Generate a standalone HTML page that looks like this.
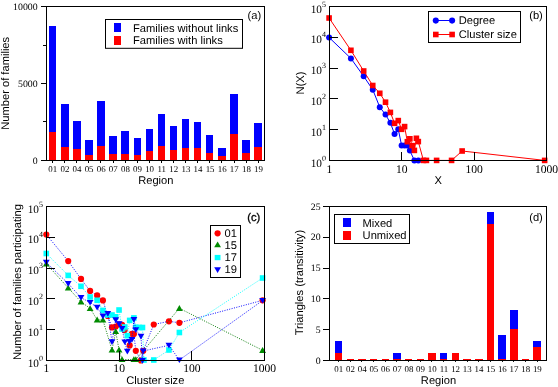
<!DOCTYPE html>
<html><head><meta charset="utf-8"><title>Figure</title>
<style>
html,body{margin:0;padding:0;background:#fff;}
body{width:558px;height:387px;overflow:hidden;font-family:"Liberation Sans",sans-serif;}
svg{display:block;will-change:transform;}
text{fill:#000;text-rendering:geometricPrecision;}
</style></head><body>
<svg width="558" height="387" viewBox="0 0 558 387">
<rect x="0" y="0" width="558" height="387" fill="#fff"/>
<rect x="49.00" y="26.00" width="7.00" height="106.00" fill="#0000ff" stroke="none" stroke-width="1" shape-rendering="crispEdges"/>
<rect x="49.00" y="132.00" width="7.00" height="28.00" fill="#ff0000" stroke="none" stroke-width="1" shape-rendering="crispEdges"/>
<line x1="52.50" y1="160.50" x2="52.50" y2="163.00" stroke="#000" stroke-width="1" />
<text x="52.80" y="172.10" font-family="Liberation Serif" font-size="8.9" text-anchor="middle" >01</text>
<rect x="61.00" y="104.00" width="8.00" height="43.00" fill="#0000ff" stroke="none" stroke-width="1" shape-rendering="crispEdges"/>
<rect x="61.00" y="147.00" width="8.00" height="13.00" fill="#ff0000" stroke="none" stroke-width="1" shape-rendering="crispEdges"/>
<line x1="64.50" y1="160.50" x2="64.50" y2="163.00" stroke="#000" stroke-width="1" />
<text x="64.90" y="172.10" font-family="Liberation Serif" font-size="8.9" text-anchor="middle" >02</text>
<rect x="73.00" y="121.00" width="8.00" height="28.00" fill="#0000ff" stroke="none" stroke-width="1" shape-rendering="crispEdges"/>
<rect x="73.00" y="149.00" width="8.00" height="11.00" fill="#ff0000" stroke="none" stroke-width="1" shape-rendering="crispEdges"/>
<line x1="76.50" y1="160.50" x2="76.50" y2="163.00" stroke="#000" stroke-width="1" />
<text x="77.00" y="172.10" font-family="Liberation Serif" font-size="8.9" text-anchor="middle" >04</text>
<rect x="85.00" y="140.00" width="8.00" height="15.00" fill="#0000ff" stroke="none" stroke-width="1" shape-rendering="crispEdges"/>
<rect x="85.00" y="155.00" width="8.00" height="5.00" fill="#ff0000" stroke="none" stroke-width="1" shape-rendering="crispEdges"/>
<line x1="88.50" y1="160.50" x2="88.50" y2="163.00" stroke="#000" stroke-width="1" />
<text x="89.10" y="172.10" font-family="Liberation Serif" font-size="8.9" text-anchor="middle" >05</text>
<rect x="97.00" y="101.00" width="8.00" height="45.00" fill="#0000ff" stroke="none" stroke-width="1" shape-rendering="crispEdges"/>
<rect x="97.00" y="146.00" width="8.00" height="14.00" fill="#ff0000" stroke="none" stroke-width="1" shape-rendering="crispEdges"/>
<line x1="100.50" y1="160.50" x2="100.50" y2="163.00" stroke="#000" stroke-width="1" />
<text x="101.20" y="172.10" font-family="Liberation Serif" font-size="8.9" text-anchor="middle" >06</text>
<rect x="109.00" y="136.00" width="8.00" height="18.00" fill="#0000ff" stroke="none" stroke-width="1" shape-rendering="crispEdges"/>
<rect x="109.00" y="154.00" width="8.00" height="6.00" fill="#ff0000" stroke="none" stroke-width="1" shape-rendering="crispEdges"/>
<line x1="113.50" y1="160.50" x2="113.50" y2="163.00" stroke="#000" stroke-width="1" />
<text x="113.30" y="172.10" font-family="Liberation Serif" font-size="8.9" text-anchor="middle" >07</text>
<rect x="121.00" y="131.00" width="8.00" height="23.00" fill="#0000ff" stroke="none" stroke-width="1" shape-rendering="crispEdges"/>
<rect x="121.00" y="154.00" width="8.00" height="6.00" fill="#ff0000" stroke="none" stroke-width="1" shape-rendering="crispEdges"/>
<line x1="125.50" y1="160.50" x2="125.50" y2="163.00" stroke="#000" stroke-width="1" />
<text x="125.40" y="172.10" font-family="Liberation Serif" font-size="8.9" text-anchor="middle" >08</text>
<rect x="134.00" y="138.00" width="7.00" height="17.00" fill="#0000ff" stroke="none" stroke-width="1" shape-rendering="crispEdges"/>
<rect x="134.00" y="155.00" width="7.00" height="5.00" fill="#ff0000" stroke="none" stroke-width="1" shape-rendering="crispEdges"/>
<line x1="137.50" y1="160.50" x2="137.50" y2="163.00" stroke="#000" stroke-width="1" />
<text x="137.50" y="172.10" font-family="Liberation Serif" font-size="8.9" text-anchor="middle" >09</text>
<rect x="146.00" y="129.00" width="7.00" height="22.00" fill="#0000ff" stroke="none" stroke-width="1" shape-rendering="crispEdges"/>
<rect x="146.00" y="151.00" width="7.00" height="9.00" fill="#ff0000" stroke="none" stroke-width="1" shape-rendering="crispEdges"/>
<line x1="149.50" y1="160.50" x2="149.50" y2="163.00" stroke="#000" stroke-width="1" />
<text x="149.60" y="172.10" font-family="Liberation Serif" font-size="8.9" text-anchor="middle" >10</text>
<rect x="158.00" y="114.00" width="7.00" height="32.00" fill="#0000ff" stroke="none" stroke-width="1" shape-rendering="crispEdges"/>
<rect x="158.00" y="146.00" width="7.00" height="14.00" fill="#ff0000" stroke="none" stroke-width="1" shape-rendering="crispEdges"/>
<line x1="161.50" y1="160.50" x2="161.50" y2="163.00" stroke="#000" stroke-width="1" />
<text x="161.70" y="172.10" font-family="Liberation Serif" font-size="8.9" text-anchor="middle" >11</text>
<rect x="170.00" y="126.00" width="7.00" height="24.00" fill="#0000ff" stroke="none" stroke-width="1" shape-rendering="crispEdges"/>
<rect x="170.00" y="150.00" width="7.00" height="10.00" fill="#ff0000" stroke="none" stroke-width="1" shape-rendering="crispEdges"/>
<line x1="173.50" y1="160.50" x2="173.50" y2="163.00" stroke="#000" stroke-width="1" />
<text x="173.80" y="172.10" font-family="Liberation Serif" font-size="8.9" text-anchor="middle" >12</text>
<rect x="182.00" y="119.00" width="7.00" height="29.00" fill="#0000ff" stroke="none" stroke-width="1" shape-rendering="crispEdges"/>
<rect x="182.00" y="148.00" width="7.00" height="12.00" fill="#ff0000" stroke="none" stroke-width="1" shape-rendering="crispEdges"/>
<line x1="185.50" y1="160.50" x2="185.50" y2="163.00" stroke="#000" stroke-width="1" />
<text x="185.90" y="172.10" font-family="Liberation Serif" font-size="8.9" text-anchor="middle" >13</text>
<rect x="194.00" y="122.00" width="7.00" height="26.00" fill="#0000ff" stroke="none" stroke-width="1" shape-rendering="crispEdges"/>
<rect x="194.00" y="148.00" width="7.00" height="12.00" fill="#ff0000" stroke="none" stroke-width="1" shape-rendering="crispEdges"/>
<line x1="197.50" y1="160.50" x2="197.50" y2="163.00" stroke="#000" stroke-width="1" />
<text x="198.00" y="172.10" font-family="Liberation Serif" font-size="8.9" text-anchor="middle" >14</text>
<rect x="206.00" y="135.00" width="7.00" height="18.00" fill="#0000ff" stroke="none" stroke-width="1" shape-rendering="crispEdges"/>
<rect x="206.00" y="153.00" width="7.00" height="7.00" fill="#ff0000" stroke="none" stroke-width="1" shape-rendering="crispEdges"/>
<line x1="209.50" y1="160.50" x2="209.50" y2="163.00" stroke="#000" stroke-width="1" />
<text x="210.10" y="172.10" font-family="Liberation Serif" font-size="8.9" text-anchor="middle" >15</text>
<rect x="218.00" y="148.00" width="8.00" height="8.00" fill="#0000ff" stroke="none" stroke-width="1" shape-rendering="crispEdges"/>
<rect x="218.00" y="156.00" width="8.00" height="4.00" fill="#ff0000" stroke="none" stroke-width="1" shape-rendering="crispEdges"/>
<line x1="221.50" y1="160.50" x2="221.50" y2="163.00" stroke="#000" stroke-width="1" />
<text x="222.20" y="172.10" font-family="Liberation Serif" font-size="8.9" text-anchor="middle" >16</text>
<rect x="230.00" y="94.00" width="8.00" height="40.00" fill="#0000ff" stroke="none" stroke-width="1" shape-rendering="crispEdges"/>
<rect x="230.00" y="134.00" width="8.00" height="26.00" fill="#ff0000" stroke="none" stroke-width="1" shape-rendering="crispEdges"/>
<line x1="234.50" y1="160.50" x2="234.50" y2="163.00" stroke="#000" stroke-width="1" />
<text x="234.30" y="172.10" font-family="Liberation Serif" font-size="8.9" text-anchor="middle" >17</text>
<rect x="242.00" y="140.00" width="8.00" height="13.00" fill="#0000ff" stroke="none" stroke-width="1" shape-rendering="crispEdges"/>
<rect x="242.00" y="153.00" width="8.00" height="7.00" fill="#ff0000" stroke="none" stroke-width="1" shape-rendering="crispEdges"/>
<line x1="246.50" y1="160.50" x2="246.50" y2="163.00" stroke="#000" stroke-width="1" />
<text x="246.40" y="172.10" font-family="Liberation Serif" font-size="8.9" text-anchor="middle" >18</text>
<rect x="254.00" y="123.00" width="8.00" height="24.00" fill="#0000ff" stroke="none" stroke-width="1" shape-rendering="crispEdges"/>
<rect x="254.00" y="147.00" width="8.00" height="13.00" fill="#ff0000" stroke="none" stroke-width="1" shape-rendering="crispEdges"/>
<line x1="258.50" y1="160.50" x2="258.50" y2="163.00" stroke="#000" stroke-width="1" />
<text x="258.50" y="172.10" font-family="Liberation Serif" font-size="8.9" text-anchor="middle" >19</text>
<rect x="46.50" y="6.50" width="218.00" height="154.00" fill="none" stroke="#000" stroke-width="1.0" />
<line x1="41.00" y1="160.50" x2="46.50" y2="160.50" stroke="#000" stroke-width="1" />
<text x="37.60" y="163.50" font-family="Liberation Serif" font-size="9.8" text-anchor="end" >0</text>
<line x1="43.00" y1="121.50" x2="46.50" y2="121.50" stroke="#000" stroke-width="1" />
<line x1="41.00" y1="83.50" x2="46.50" y2="83.50" stroke="#000" stroke-width="1" />
<text x="37.60" y="86.50" font-family="Liberation Serif" font-size="9.8" text-anchor="end" >5000</text>
<line x1="43.00" y1="45.50" x2="46.50" y2="45.50" stroke="#000" stroke-width="1" />
<line x1="41.00" y1="6.50" x2="46.50" y2="6.50" stroke="#000" stroke-width="1" />
<text x="37.60" y="9.50" font-family="Liberation Serif" font-size="9.8" text-anchor="end" >10000</text>
<text transform="translate(8.70,83.30) rotate(-90)" font-family="Liberation Sans" font-size="11.15" text-anchor="middle">Number of families</text>
<text x="155.80" y="184.40" font-family="Liberation Sans" font-size="11.15" text-anchor="middle" >Region</text>
<rect x="105.50" y="19.50" width="137.00" height="28.80" fill="#fff" stroke="#000" stroke-width="1" />
<rect x="114.00" y="23.00" width="7.00" height="9.00" fill="#0000ff" stroke="none" stroke-width="1" />
<rect x="114.00" y="36.00" width="7.00" height="9.00" fill="#ff0000" stroke="none" stroke-width="1" />
<text x="133.00" y="31.80" font-family="Liberation Sans" font-size="11.15" text-anchor="start" >Families without links</text>
<text x="133.00" y="43.90" font-family="Liberation Sans" font-size="11.15" text-anchor="start" >Families with links</text>
<text x="247.50" y="19.20" font-family="Liberation Sans" font-size="11.15" text-anchor="start" >(a)</text>
<polyline points="329.10,37.50 350.92,58.40 363.69,76.30 372.75,89.70 379.78,107.20 385.52,114.60 390.37,122.80 394.57,134.00 398.28,129.20 401.60,145.50 404.60,145.50 407.34,145.50 409.86,150.60 414.37,160.40 418.31,160.40" fill="none" stroke="#0000ff" stroke-width="1.0" />
<circle cx="329.10" cy="37.50" r="3.0" fill="#0000ff"/>
<circle cx="350.92" cy="58.40" r="3.0" fill="#0000ff"/>
<circle cx="363.69" cy="76.30" r="3.0" fill="#0000ff"/>
<circle cx="372.75" cy="89.70" r="3.0" fill="#0000ff"/>
<circle cx="379.78" cy="107.20" r="3.0" fill="#0000ff"/>
<circle cx="385.52" cy="114.60" r="3.0" fill="#0000ff"/>
<circle cx="390.37" cy="122.80" r="3.0" fill="#0000ff"/>
<circle cx="394.57" cy="134.00" r="3.0" fill="#0000ff"/>
<circle cx="398.28" cy="129.20" r="3.0" fill="#0000ff"/>
<circle cx="401.60" cy="145.50" r="3.0" fill="#0000ff"/>
<circle cx="404.60" cy="145.50" r="3.0" fill="#0000ff"/>
<circle cx="407.34" cy="145.50" r="3.0" fill="#0000ff"/>
<circle cx="409.86" cy="150.60" r="3.0" fill="#0000ff"/>
<circle cx="414.37" cy="160.40" r="3.0" fill="#0000ff"/>
<circle cx="418.31" cy="160.40" r="3.0" fill="#0000ff"/>
<polyline points="329.10,18.00 350.92,50.30 363.69,71.00 372.75,85.50 379.78,93.30 385.52,102.20 390.37,112.40 394.57,123.30 398.28,120.60 401.60,129.30 404.60,126.60 407.34,141.70 409.86,138.80 412.19,145.60 414.37,150.40 416.40,138.30 418.31,141.60 423.42,160.40 426.43,160.40 436.61,160.40 451.57,160.40 462.14,151.00 544.65,160.40" fill="none" stroke="#ff0000" stroke-width="1.0" />
<rect x="326.30" y="15.20" width="5.60" height="5.60" fill="#ff0000" stroke="none" stroke-width="1" />
<rect x="348.12" y="47.50" width="5.60" height="5.60" fill="#ff0000" stroke="none" stroke-width="1" />
<rect x="360.89" y="68.20" width="5.60" height="5.60" fill="#ff0000" stroke="none" stroke-width="1" />
<rect x="369.95" y="82.70" width="5.60" height="5.60" fill="#ff0000" stroke="none" stroke-width="1" />
<rect x="376.98" y="90.50" width="5.60" height="5.60" fill="#ff0000" stroke="none" stroke-width="1" />
<rect x="382.72" y="99.40" width="5.60" height="5.60" fill="#ff0000" stroke="none" stroke-width="1" />
<rect x="387.57" y="109.60" width="5.60" height="5.60" fill="#ff0000" stroke="none" stroke-width="1" />
<rect x="391.77" y="120.50" width="5.60" height="5.60" fill="#ff0000" stroke="none" stroke-width="1" />
<rect x="395.48" y="117.80" width="5.60" height="5.60" fill="#ff0000" stroke="none" stroke-width="1" />
<rect x="398.80" y="126.50" width="5.60" height="5.60" fill="#ff0000" stroke="none" stroke-width="1" />
<rect x="401.80" y="123.80" width="5.60" height="5.60" fill="#ff0000" stroke="none" stroke-width="1" />
<rect x="404.54" y="138.90" width="5.60" height="5.60" fill="#ff0000" stroke="none" stroke-width="1" />
<rect x="407.06" y="136.00" width="5.60" height="5.60" fill="#ff0000" stroke="none" stroke-width="1" />
<rect x="409.39" y="142.80" width="5.60" height="5.60" fill="#ff0000" stroke="none" stroke-width="1" />
<rect x="411.57" y="147.60" width="5.60" height="5.60" fill="#ff0000" stroke="none" stroke-width="1" />
<rect x="413.60" y="135.50" width="5.60" height="5.60" fill="#ff0000" stroke="none" stroke-width="1" />
<rect x="415.51" y="138.80" width="5.60" height="5.60" fill="#ff0000" stroke="none" stroke-width="1" />
<rect x="420.62" y="157.60" width="5.60" height="5.60" fill="#ff0000" stroke="none" stroke-width="1" />
<rect x="423.63" y="157.60" width="5.60" height="5.60" fill="#ff0000" stroke="none" stroke-width="1" />
<rect x="433.81" y="157.60" width="5.60" height="5.60" fill="#ff0000" stroke="none" stroke-width="1" />
<rect x="448.77" y="157.60" width="5.60" height="5.60" fill="#ff0000" stroke="none" stroke-width="1" />
<rect x="459.34" y="148.20" width="5.60" height="5.60" fill="#ff0000" stroke="none" stroke-width="1" />
<rect x="541.85" y="157.60" width="5.60" height="5.60" fill="#ff0000" stroke="none" stroke-width="1" />
<rect x="329.50" y="6.50" width="217.00" height="154.00" fill="none" stroke="#000" stroke-width="1.0" />
<text x="322.00" y="166.65" font-family="Liberation Serif" font-size="11.3" text-anchor="end" >10</text>
<text x="322.10" y="160.60" font-family="Liberation Serif" font-size="8.0" text-anchor="start" >0</text>
<line x1="329.50" y1="129.50" x2="338.00" y2="129.50" stroke="#000" stroke-width="1" />
<text x="322.00" y="135.85" font-family="Liberation Serif" font-size="11.3" text-anchor="end" >10</text>
<text x="322.10" y="129.80" font-family="Liberation Serif" font-size="8.0" text-anchor="start" >1</text>
<line x1="329.50" y1="98.50" x2="338.00" y2="98.50" stroke="#000" stroke-width="1" />
<text x="322.00" y="105.05" font-family="Liberation Serif" font-size="11.3" text-anchor="end" >10</text>
<text x="322.10" y="99.00" font-family="Liberation Serif" font-size="8.0" text-anchor="start" >2</text>
<line x1="329.50" y1="68.50" x2="338.00" y2="68.50" stroke="#000" stroke-width="1" />
<text x="322.00" y="74.25" font-family="Liberation Serif" font-size="11.3" text-anchor="end" >10</text>
<text x="322.10" y="68.20" font-family="Liberation Serif" font-size="8.0" text-anchor="start" >3</text>
<line x1="329.50" y1="37.50" x2="338.00" y2="37.50" stroke="#000" stroke-width="1" />
<text x="322.00" y="43.45" font-family="Liberation Serif" font-size="11.3" text-anchor="end" >10</text>
<text x="322.10" y="37.40" font-family="Liberation Serif" font-size="8.0" text-anchor="start" >4</text>
<text x="322.00" y="12.65" font-family="Liberation Serif" font-size="11.3" text-anchor="end" >10</text>
<text x="322.10" y="6.60" font-family="Liberation Serif" font-size="8.0" text-anchor="start" >5</text>
<text x="329.50" y="172.50" font-family="Liberation Serif" font-size="11.6" text-anchor="middle" >1</text>
<line x1="401.50" y1="160.50" x2="401.50" y2="152.00" stroke="#000" stroke-width="1" />
<text x="401.83" y="172.50" font-family="Liberation Serif" font-size="11.6" text-anchor="middle" >10</text>
<line x1="474.50" y1="160.50" x2="474.50" y2="152.00" stroke="#000" stroke-width="1" />
<text x="474.17" y="172.50" font-family="Liberation Serif" font-size="11.6" text-anchor="middle" >100</text>
<text x="546.50" y="172.50" font-family="Liberation Serif" font-size="11.6" text-anchor="middle" >1000</text>
<text transform="translate(304.00,83.00) rotate(-90)" font-family="Liberation Sans" font-size="11.15" text-anchor="middle">N(X)</text>
<text x="438.30" y="184.20" font-family="Liberation Sans" font-size="11.15" text-anchor="middle" >X</text>
<rect x="428.50" y="11.50" width="92.00" height="31.00" fill="#fff" stroke="#000" stroke-width="1" />
<line x1="435.80" y1="20.50" x2="452.10" y2="20.50" stroke="#0000ff" stroke-width="1" />
<line x1="435.80" y1="34.50" x2="452.10" y2="34.50" stroke="#ff0000" stroke-width="1" />
<circle cx="435.80" cy="20.60" r="3.05" fill="#0000ff"/>
<rect x="433.00" y="31.70" width="5.60" height="5.60" fill="#ff0000" stroke="none" stroke-width="1" />
<circle cx="452.10" cy="20.60" r="3.05" fill="#0000ff"/>
<rect x="449.30" y="31.70" width="5.60" height="5.60" fill="#ff0000" stroke="none" stroke-width="1" />
<text x="458.70" y="23.70" font-family="Liberation Sans" font-size="11.15" text-anchor="start" >Degree</text>
<text x="458.70" y="38.30" font-family="Liberation Sans" font-size="11.15" text-anchor="start" >Cluster size</text>
<text x="529.20" y="19.20" font-family="Liberation Sans" font-size="11.15" text-anchor="start" >(b)</text>
<polyline points="46.30,234.50 68.20,261.10 81.01,278.90 90.10,290.90 97.15,295.40 102.91,300.40 107.78,316.00 112.00,327.40 115.72,326.50 119.05,324.30 122.06,324.80 124.55,330.20 129.68,345.40 131.86,333.80 133.90,334.10 135.82,350.80 140.95,360.40 143.23,350.80 153.76,324.50 168.94,321.30 179.38,322.80 262.60,300.30" fill="none" stroke="#0000ff" stroke-width="0.95" stroke-dasharray="1,1.45"/>
<circle cx="46.30" cy="234.50" r="3.1" fill="#ff0000"/>
<circle cx="68.20" cy="261.10" r="3.1" fill="#ff0000"/>
<circle cx="81.01" cy="278.90" r="3.1" fill="#ff0000"/>
<circle cx="90.10" cy="290.90" r="3.1" fill="#ff0000"/>
<circle cx="97.15" cy="295.40" r="3.1" fill="#ff0000"/>
<circle cx="102.91" cy="300.40" r="3.1" fill="#ff0000"/>
<circle cx="107.78" cy="316.00" r="3.1" fill="#ff0000"/>
<circle cx="112.00" cy="327.40" r="3.1" fill="#ff0000"/>
<circle cx="115.72" cy="326.50" r="3.1" fill="#ff0000"/>
<circle cx="119.05" cy="324.30" r="3.1" fill="#ff0000"/>
<circle cx="122.06" cy="324.80" r="3.1" fill="#ff0000"/>
<circle cx="124.55" cy="330.20" r="3.1" fill="#ff0000"/>
<circle cx="129.68" cy="345.40" r="3.1" fill="#ff0000"/>
<circle cx="131.86" cy="333.80" r="3.1" fill="#ff0000"/>
<circle cx="133.90" cy="334.10" r="3.1" fill="#ff0000"/>
<circle cx="135.82" cy="350.80" r="3.1" fill="#ff0000"/>
<circle cx="140.95" cy="360.40" r="3.1" fill="#ff0000"/>
<circle cx="143.23" cy="350.80" r="3.1" fill="#ff0000"/>
<circle cx="153.76" cy="324.50" r="3.1" fill="#ff0000"/>
<circle cx="168.94" cy="321.30" r="3.1" fill="#ff0000"/>
<circle cx="179.38" cy="322.80" r="3.1" fill="#ff0000"/>
<circle cx="262.60" cy="300.30" r="3.1" fill="#ff0000"/>
<polyline points="46.30,263.80 68.20,287.90 81.01,301.80 90.10,308.40 97.15,319.80 102.91,320.00 112.00,350.00 115.72,331.50 119.05,350.00 122.06,359.50 133.90,359.50 135.82,359.50 179.38,308.30 262.60,350.30" fill="none" stroke="#007800" stroke-width="0.95" stroke-dasharray="1,1.45"/>
<polygon points="42.90,266.40 49.70,266.40 46.30,260.60" fill="#008b00"/>
<polygon points="64.80,290.50 71.60,290.50 68.20,284.70" fill="#008b00"/>
<polygon points="77.61,304.40 84.41,304.40 81.01,298.60" fill="#008b00"/>
<polygon points="86.70,311.00 93.50,311.00 90.10,305.20" fill="#008b00"/>
<polygon points="93.75,322.40 100.55,322.40 97.15,316.60" fill="#008b00"/>
<polygon points="99.51,322.60 106.31,322.60 102.91,316.80" fill="#008b00"/>
<polygon points="108.60,352.60 115.40,352.60 112.00,346.80" fill="#008b00"/>
<polygon points="112.32,334.10 119.12,334.10 115.72,328.30" fill="#008b00"/>
<polygon points="115.65,352.60 122.45,352.60 119.05,346.80" fill="#008b00"/>
<polygon points="118.66,362.10 125.46,362.10 122.06,356.30" fill="#008b00"/>
<polygon points="130.50,362.10 137.30,362.10 133.90,356.30" fill="#008b00"/>
<polygon points="132.42,362.10 139.22,362.10 135.82,356.30" fill="#008b00"/>
<polygon points="175.98,310.90 182.78,310.90 179.38,305.10" fill="#008b00"/>
<polygon points="259.20,352.90 266.00,352.90 262.60,347.10" fill="#008b00"/>
<polyline points="46.30,253.50 68.20,275.40 81.01,286.30 90.10,297.00 97.15,300.30 102.91,310.40 107.78,315.00 112.00,315.00 115.72,316.80 119.05,310.00 122.06,329.00 124.81,327.00 127.34,335.70 129.68,320.40 133.90,317.90 135.82,327.30 139.33,327.50 142.49,327.50 143.96,360.00 153.76,360.00 168.94,350.00 179.38,332.50 262.60,278.00" fill="none" stroke="#00ffff" stroke-width="0.95" stroke-dasharray="1,1.45"/>
<rect x="43.50" y="250.70" width="5.60" height="5.60" fill="#00ffff" stroke="none" stroke-width="1" />
<rect x="65.40" y="272.60" width="5.60" height="5.60" fill="#00ffff" stroke="none" stroke-width="1" />
<rect x="78.21" y="283.50" width="5.60" height="5.60" fill="#00ffff" stroke="none" stroke-width="1" />
<rect x="87.30" y="294.20" width="5.60" height="5.60" fill="#00ffff" stroke="none" stroke-width="1" />
<rect x="94.35" y="297.50" width="5.60" height="5.60" fill="#00ffff" stroke="none" stroke-width="1" />
<rect x="100.11" y="307.60" width="5.60" height="5.60" fill="#00ffff" stroke="none" stroke-width="1" />
<rect x="104.98" y="312.20" width="5.60" height="5.60" fill="#00ffff" stroke="none" stroke-width="1" />
<rect x="109.20" y="312.20" width="5.60" height="5.60" fill="#00ffff" stroke="none" stroke-width="1" />
<rect x="112.92" y="314.00" width="5.60" height="5.60" fill="#00ffff" stroke="none" stroke-width="1" />
<rect x="116.25" y="307.20" width="5.60" height="5.60" fill="#00ffff" stroke="none" stroke-width="1" />
<rect x="119.26" y="326.20" width="5.60" height="5.60" fill="#00ffff" stroke="none" stroke-width="1" />
<rect x="122.01" y="324.20" width="5.60" height="5.60" fill="#00ffff" stroke="none" stroke-width="1" />
<rect x="124.54" y="332.90" width="5.60" height="5.60" fill="#00ffff" stroke="none" stroke-width="1" />
<rect x="126.88" y="317.60" width="5.60" height="5.60" fill="#00ffff" stroke="none" stroke-width="1" />
<rect x="131.10" y="315.10" width="5.60" height="5.60" fill="#00ffff" stroke="none" stroke-width="1" />
<rect x="133.02" y="324.50" width="5.60" height="5.60" fill="#00ffff" stroke="none" stroke-width="1" />
<rect x="136.53" y="324.70" width="5.60" height="5.60" fill="#00ffff" stroke="none" stroke-width="1" />
<rect x="139.69" y="324.70" width="5.60" height="5.60" fill="#00ffff" stroke="none" stroke-width="1" />
<rect x="141.16" y="357.20" width="5.60" height="5.60" fill="#00ffff" stroke="none" stroke-width="1" />
<rect x="150.96" y="357.20" width="5.60" height="5.60" fill="#00ffff" stroke="none" stroke-width="1" />
<rect x="166.14" y="347.20" width="5.60" height="5.60" fill="#00ffff" stroke="none" stroke-width="1" />
<rect x="176.58" y="329.70" width="5.60" height="5.60" fill="#00ffff" stroke="none" stroke-width="1" />
<rect x="259.80" y="275.20" width="5.60" height="5.60" fill="#00ffff" stroke="none" stroke-width="1" />
<polyline points="46.30,262.40 68.20,283.60 81.01,297.70 90.10,302.50 97.15,307.40 102.91,316.20 107.78,313.50 112.00,341.80 115.72,319.90 119.05,323.80 122.06,328.70 124.81,342.00 127.34,351.40 129.45,341.60 131.97,339.70 133.90,319.60 135.82,329.80 140.95,336.40 142.49,360.60 143.23,351.00 168.94,345.30 179.38,360.00 262.60,300.50" fill="none" stroke="#0000ff" stroke-width="0.95" stroke-dasharray="1,1.45"/>
<polygon points="42.90,259.80 49.70,259.80 46.30,265.50" fill="#0000ff"/>
<polygon points="64.80,281.00 71.60,281.00 68.20,286.70" fill="#0000ff"/>
<polygon points="77.61,295.10 84.41,295.10 81.01,300.80" fill="#0000ff"/>
<polygon points="86.70,299.90 93.50,299.90 90.10,305.60" fill="#0000ff"/>
<polygon points="93.75,304.80 100.55,304.80 97.15,310.50" fill="#0000ff"/>
<polygon points="99.51,313.60 106.31,313.60 102.91,319.30" fill="#0000ff"/>
<polygon points="104.38,310.90 111.18,310.90 107.78,316.60" fill="#0000ff"/>
<polygon points="108.60,339.20 115.40,339.20 112.00,344.90" fill="#0000ff"/>
<polygon points="112.32,317.30 119.12,317.30 115.72,323.00" fill="#0000ff"/>
<polygon points="115.65,321.20 122.45,321.20 119.05,326.90" fill="#0000ff"/>
<polygon points="118.66,326.10 125.46,326.10 122.06,331.80" fill="#0000ff"/>
<polygon points="121.41,339.40 128.21,339.40 124.81,345.10" fill="#0000ff"/>
<polygon points="123.94,348.80 130.74,348.80 127.34,354.50" fill="#0000ff"/>
<polygon points="126.05,339.00 132.85,339.00 129.45,344.70" fill="#0000ff"/>
<polygon points="128.57,337.10 135.37,337.10 131.97,342.80" fill="#0000ff"/>
<polygon points="130.50,317.00 137.30,317.00 133.90,322.70" fill="#0000ff"/>
<polygon points="132.42,327.20 139.22,327.20 135.82,332.90" fill="#0000ff"/>
<polygon points="137.55,333.80 144.35,333.80 140.95,339.50" fill="#0000ff"/>
<polygon points="139.09,358.00 145.89,358.00 142.49,363.70" fill="#0000ff"/>
<polygon points="139.83,348.40 146.63,348.40 143.23,354.10" fill="#0000ff"/>
<polygon points="165.54,342.70 172.34,342.70 168.94,348.40" fill="#0000ff"/>
<polygon points="175.98,357.40 182.78,357.40 179.38,363.10" fill="#0000ff"/>
<polygon points="259.20,297.90 266.00,297.90 262.60,303.60" fill="#0000ff"/>
<rect x="46.50" y="206.50" width="218.00" height="154.00" fill="none" stroke="#000" stroke-width="1.0" />
<text x="39.00" y="366.65" font-family="Liberation Serif" font-size="11.3" text-anchor="end" >10</text>
<text x="39.10" y="360.60" font-family="Liberation Serif" font-size="8.0" text-anchor="start" >0</text>
<line x1="46.50" y1="329.50" x2="55.00" y2="329.50" stroke="#000" stroke-width="1" />
<text x="39.00" y="335.85" font-family="Liberation Serif" font-size="11.3" text-anchor="end" >10</text>
<text x="39.10" y="329.80" font-family="Liberation Serif" font-size="8.0" text-anchor="start" >1</text>
<line x1="46.50" y1="298.50" x2="55.00" y2="298.50" stroke="#000" stroke-width="1" />
<text x="39.00" y="305.05" font-family="Liberation Serif" font-size="11.3" text-anchor="end" >10</text>
<text x="39.10" y="299.00" font-family="Liberation Serif" font-size="8.0" text-anchor="start" >2</text>
<line x1="46.50" y1="268.50" x2="55.00" y2="268.50" stroke="#000" stroke-width="1" />
<text x="39.00" y="274.25" font-family="Liberation Serif" font-size="11.3" text-anchor="end" >10</text>
<text x="39.10" y="268.20" font-family="Liberation Serif" font-size="8.0" text-anchor="start" >3</text>
<line x1="46.50" y1="237.50" x2="55.00" y2="237.50" stroke="#000" stroke-width="1" />
<text x="39.00" y="243.45" font-family="Liberation Serif" font-size="11.3" text-anchor="end" >10</text>
<text x="39.10" y="237.40" font-family="Liberation Serif" font-size="8.0" text-anchor="start" >4</text>
<text x="39.00" y="212.65" font-family="Liberation Serif" font-size="11.3" text-anchor="end" >10</text>
<text x="39.10" y="206.60" font-family="Liberation Serif" font-size="8.0" text-anchor="start" >5</text>
<text x="46.50" y="372.30" font-family="Liberation Serif" font-size="11.6" text-anchor="middle" >1</text>
<line x1="119.50" y1="360.50" x2="119.50" y2="351.00" stroke="#000" stroke-width="1" />
<text x="119.17" y="372.30" font-family="Liberation Serif" font-size="11.6" text-anchor="middle" >10</text>
<line x1="191.50" y1="360.50" x2="191.50" y2="351.00" stroke="#000" stroke-width="1" />
<text x="191.83" y="372.30" font-family="Liberation Serif" font-size="11.6" text-anchor="middle" >100</text>
<text x="264.50" y="372.30" font-family="Liberation Serif" font-size="11.6" text-anchor="middle" >1000</text>
<text transform="translate(21.20,282.10) rotate(-90)" font-family="Liberation Sans" font-size="11.15" text-anchor="middle">Number of families participating</text>
<text x="155.30" y="384.10" font-family="Liberation Sans" font-size="11.15" text-anchor="middle" >Cluster size</text>
<rect x="210.50" y="225.50" width="30.00" height="52.00" fill="#fff" stroke="#000" stroke-width="1" />
<circle cx="217.60" cy="233.30" r="3.1" fill="#ff0000"/>
<polygon points="214.20,247.30 221.00,247.30 217.60,241.50" fill="#008b00"/>
<rect x="214.70" y="254.90" width="5.80" height="5.30" fill="#00ffff" stroke="none" stroke-width="1" />
<polygon points="214.20,267.20 221.00,267.20 217.60,272.90" fill="#0000ff"/>
<text x="224.60" y="236.90" font-family="Liberation Sans" font-size="11.15" text-anchor="start" >01</text>
<text x="224.60" y="249.00" font-family="Liberation Sans" font-size="11.15" text-anchor="start" >15</text>
<text x="224.60" y="261.10" font-family="Liberation Sans" font-size="11.15" text-anchor="start" >17</text>
<text x="224.60" y="273.20" font-family="Liberation Sans" font-size="11.15" text-anchor="start" >19</text>
<text x="247.30" y="220.60" font-family="Liberation Sans" font-size="11.15" text-anchor="start" stroke="#000" stroke-width="0.3">(c)</text>
<rect x="335.00" y="341.00" width="7.00" height="12.00" fill="#0000ff" stroke="none" stroke-width="1" shape-rendering="crispEdges"/>
<rect x="335.00" y="353.00" width="7.00" height="7.00" fill="#ff0000" stroke="none" stroke-width="1" shape-rendering="crispEdges"/>
<line x1="338.50" y1="360.50" x2="338.50" y2="361.90" stroke="#000" stroke-width="1" />
<text x="338.80" y="371.90" font-family="Liberation Serif" font-size="8.9" text-anchor="middle" >01</text>
<rect x="347.00" y="359.00" width="7.00" height="1.00" fill="#ff0000" stroke="none" stroke-width="1" shape-rendering="crispEdges"/>
<line x1="350.50" y1="360.50" x2="350.50" y2="361.90" stroke="#000" stroke-width="1" />
<text x="350.48" y="371.90" font-family="Liberation Serif" font-size="8.9" text-anchor="middle" >02</text>
<rect x="358.00" y="359.00" width="8.00" height="1.00" fill="#ff0000" stroke="none" stroke-width="1" shape-rendering="crispEdges"/>
<line x1="361.50" y1="360.50" x2="361.50" y2="361.90" stroke="#000" stroke-width="1" />
<text x="362.16" y="371.90" font-family="Liberation Serif" font-size="8.9" text-anchor="middle" >04</text>
<rect x="370.00" y="359.00" width="7.00" height="1.00" fill="#ff0000" stroke="none" stroke-width="1" shape-rendering="crispEdges"/>
<line x1="373.50" y1="360.50" x2="373.50" y2="361.90" stroke="#000" stroke-width="1" />
<text x="373.84" y="371.90" font-family="Liberation Serif" font-size="8.9" text-anchor="middle" >05</text>
<rect x="382.00" y="359.00" width="7.00" height="1.00" fill="#ff0000" stroke="none" stroke-width="1" shape-rendering="crispEdges"/>
<line x1="385.50" y1="360.50" x2="385.50" y2="361.90" stroke="#000" stroke-width="1" />
<text x="385.52" y="371.90" font-family="Liberation Serif" font-size="8.9" text-anchor="middle" >06</text>
<rect x="393.00" y="353.00" width="8.00" height="6.00" fill="#0000ff" stroke="none" stroke-width="1" shape-rendering="crispEdges"/>
<rect x="393.00" y="359.00" width="8.00" height="1.00" fill="#ff0000" stroke="none" stroke-width="1" shape-rendering="crispEdges"/>
<line x1="396.50" y1="360.50" x2="396.50" y2="361.90" stroke="#000" stroke-width="1" />
<text x="397.20" y="371.90" font-family="Liberation Serif" font-size="8.9" text-anchor="middle" >07</text>
<rect x="405.00" y="359.00" width="7.00" height="1.00" fill="#ff0000" stroke="none" stroke-width="1" shape-rendering="crispEdges"/>
<line x1="408.50" y1="360.50" x2="408.50" y2="361.90" stroke="#000" stroke-width="1" />
<text x="408.88" y="371.90" font-family="Liberation Serif" font-size="8.9" text-anchor="middle" >08</text>
<rect x="417.00" y="359.00" width="7.00" height="1.00" fill="#ff0000" stroke="none" stroke-width="1" shape-rendering="crispEdges"/>
<line x1="420.50" y1="360.50" x2="420.50" y2="361.90" stroke="#000" stroke-width="1" />
<text x="420.56" y="371.90" font-family="Liberation Serif" font-size="8.9" text-anchor="middle" >09</text>
<rect x="428.00" y="353.00" width="8.00" height="7.00" fill="#ff0000" stroke="none" stroke-width="1" shape-rendering="crispEdges"/>
<line x1="431.50" y1="360.50" x2="431.50" y2="361.90" stroke="#000" stroke-width="1" />
<text x="432.24" y="371.90" font-family="Liberation Serif" font-size="8.9" text-anchor="middle" >10</text>
<rect x="440.00" y="353.00" width="7.00" height="6.00" fill="#0000ff" stroke="none" stroke-width="1" shape-rendering="crispEdges"/>
<rect x="440.00" y="359.00" width="7.00" height="1.00" fill="#ff0000" stroke="none" stroke-width="1" shape-rendering="crispEdges"/>
<line x1="443.50" y1="360.50" x2="443.50" y2="361.90" stroke="#000" stroke-width="1" />
<text x="443.92" y="371.90" font-family="Liberation Serif" font-size="8.9" text-anchor="middle" >11</text>
<rect x="452.00" y="353.00" width="7.00" height="7.00" fill="#ff0000" stroke="none" stroke-width="1" shape-rendering="crispEdges"/>
<line x1="455.50" y1="360.50" x2="455.50" y2="361.90" stroke="#000" stroke-width="1" />
<text x="455.60" y="371.90" font-family="Liberation Serif" font-size="8.9" text-anchor="middle" >12</text>
<rect x="463.00" y="359.00" width="8.00" height="1.00" fill="#ff0000" stroke="none" stroke-width="1" shape-rendering="crispEdges"/>
<line x1="467.50" y1="360.50" x2="467.50" y2="361.90" stroke="#000" stroke-width="1" />
<text x="467.28" y="371.90" font-family="Liberation Serif" font-size="8.9" text-anchor="middle" >13</text>
<rect x="475.00" y="359.00" width="8.00" height="1.00" fill="#ff0000" stroke="none" stroke-width="1" shape-rendering="crispEdges"/>
<line x1="478.50" y1="360.50" x2="478.50" y2="361.90" stroke="#000" stroke-width="1" />
<text x="478.96" y="371.90" font-family="Liberation Serif" font-size="8.9" text-anchor="middle" >14</text>
<rect x="487.00" y="212.00" width="7.00" height="12.00" fill="#0000ff" stroke="none" stroke-width="1" shape-rendering="crispEdges"/>
<rect x="487.00" y="224.00" width="7.00" height="136.00" fill="#ff0000" stroke="none" stroke-width="1" shape-rendering="crispEdges"/>
<line x1="490.50" y1="360.50" x2="490.50" y2="361.90" stroke="#000" stroke-width="1" />
<text x="490.64" y="371.90" font-family="Liberation Serif" font-size="8.9" text-anchor="middle" >15</text>
<rect x="498.00" y="335.00" width="8.00" height="24.00" fill="#0000ff" stroke="none" stroke-width="1" shape-rendering="crispEdges"/>
<rect x="498.00" y="359.00" width="8.00" height="1.00" fill="#ff0000" stroke="none" stroke-width="1" shape-rendering="crispEdges"/>
<line x1="502.50" y1="360.50" x2="502.50" y2="361.90" stroke="#000" stroke-width="1" />
<text x="502.32" y="371.90" font-family="Liberation Serif" font-size="8.9" text-anchor="middle" >16</text>
<rect x="510.00" y="310.00" width="8.00" height="19.00" fill="#0000ff" stroke="none" stroke-width="1" shape-rendering="crispEdges"/>
<rect x="510.00" y="329.00" width="8.00" height="31.00" fill="#ff0000" stroke="none" stroke-width="1" shape-rendering="crispEdges"/>
<line x1="513.50" y1="360.50" x2="513.50" y2="361.90" stroke="#000" stroke-width="1" />
<text x="514.00" y="371.90" font-family="Liberation Serif" font-size="8.9" text-anchor="middle" >17</text>
<rect x="522.00" y="359.00" width="7.00" height="1.00" fill="#ff0000" stroke="none" stroke-width="1" shape-rendering="crispEdges"/>
<line x1="525.50" y1="360.50" x2="525.50" y2="361.90" stroke="#000" stroke-width="1" />
<text x="525.68" y="371.90" font-family="Liberation Serif" font-size="8.9" text-anchor="middle" >18</text>
<rect x="533.00" y="341.00" width="8.00" height="6.00" fill="#0000ff" stroke="none" stroke-width="1" shape-rendering="crispEdges"/>
<rect x="533.00" y="347.00" width="8.00" height="13.00" fill="#ff0000" stroke="none" stroke-width="1" shape-rendering="crispEdges"/>
<line x1="537.50" y1="360.50" x2="537.50" y2="361.90" stroke="#000" stroke-width="1" />
<text x="537.36" y="371.90" font-family="Liberation Serif" font-size="8.9" text-anchor="middle" >19</text>
<rect x="329.50" y="206.50" width="217.00" height="154.00" fill="none" stroke="#000" stroke-width="1.0" />
<line x1="323.00" y1="360.50" x2="329.50" y2="360.50" stroke="#000" stroke-width="1" />
<text x="320.60" y="363.50" font-family="Liberation Serif" font-size="9.8" text-anchor="end" >0</text>
<line x1="323.00" y1="329.50" x2="329.50" y2="329.50" stroke="#000" stroke-width="1" />
<text x="320.60" y="332.70" font-family="Liberation Serif" font-size="9.8" text-anchor="end" >5</text>
<line x1="323.00" y1="298.50" x2="329.50" y2="298.50" stroke="#000" stroke-width="1" />
<text x="320.60" y="301.90" font-family="Liberation Serif" font-size="9.8" text-anchor="end" >10</text>
<line x1="323.00" y1="268.50" x2="329.50" y2="268.50" stroke="#000" stroke-width="1" />
<text x="320.60" y="271.10" font-family="Liberation Serif" font-size="9.8" text-anchor="end" >15</text>
<line x1="323.00" y1="237.50" x2="329.50" y2="237.50" stroke="#000" stroke-width="1" />
<text x="320.60" y="240.30" font-family="Liberation Serif" font-size="9.8" text-anchor="end" >20</text>
<line x1="323.00" y1="206.50" x2="329.50" y2="206.50" stroke="#000" stroke-width="1" />
<text x="320.60" y="209.50" font-family="Liberation Serif" font-size="9.8" text-anchor="end" >25</text>
<text transform="translate(303.30,282.60) rotate(-90)" font-family="Liberation Sans" font-size="11.15" text-anchor="middle">Triangles (transitivity)</text>
<text x="438.50" y="384.10" font-family="Liberation Sans" font-size="11.15" text-anchor="middle" >Region</text>
<rect x="334.50" y="214.50" width="75.00" height="29.00" fill="#fff" stroke="#000" stroke-width="1" />
<rect x="343.00" y="218.00" width="8.00" height="9.00" fill="#0000ff" stroke="none" stroke-width="1" />
<rect x="343.00" y="231.00" width="8.00" height="9.00" fill="#ff0000" stroke="none" stroke-width="1" />
<text x="362.60" y="226.70" font-family="Liberation Sans" font-size="11.15" text-anchor="start" >Mixed</text>
<text x="362.60" y="239.20" font-family="Liberation Sans" font-size="11.15" text-anchor="start" >Unmixed</text>
<text x="529.20" y="221.00" font-family="Liberation Sans" font-size="11.15" text-anchor="start" >(d)</text>
</svg>
</body></html>
